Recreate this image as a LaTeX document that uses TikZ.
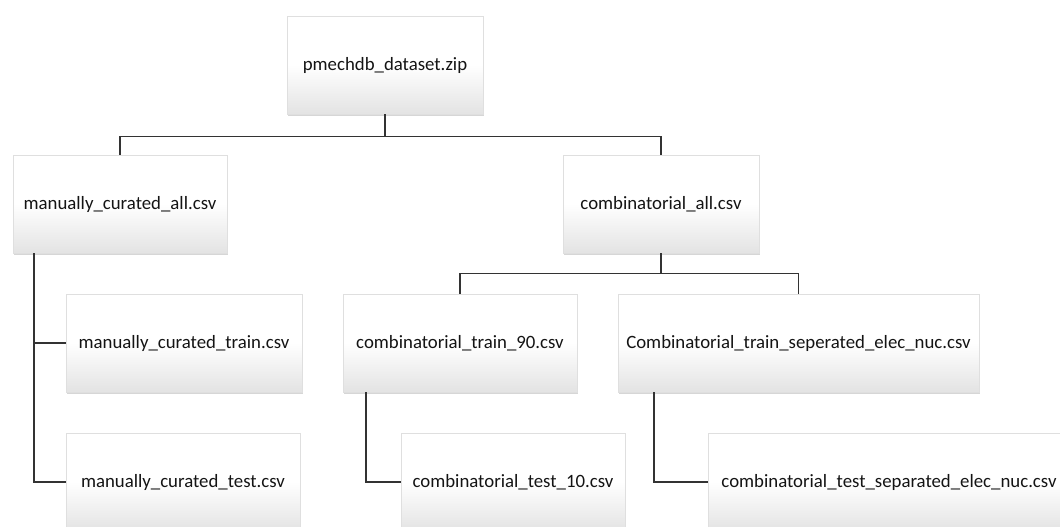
\documentclass[tikz,border=0pt]{standalone}
\usepackage{fontspec}
\setmainfont{Carlito}
\usetikzlibrary{shadows,calc}
\tikzset{
  filebox/.style={rectangle, draw=gray!25, line width=0.4pt,
    top color=white, bottom color=gray!22, middle color=white,
    minimum height=98pt, inner sep=0pt, font=\fontsize{18.8}{22}\selectfont,
    text=black!92,
    drop shadow={shadow xshift=1.2pt, shadow yshift=-1.8pt, opacity=0.45, fill=gray!70}},
  link/.style={draw=black!80, line width=1.4pt}
}
\begin{document}
\begin{tikzpicture}[x=1pt,y=1pt]
\useasboundingbox (0,0) rectangle (1060,-527);
\fill[white] (0,0) rectangle (1060,-527);

\node[filebox, minimum width=196pt] (root) at (385,-65) {pmechdb\_dataset.zip};
\node[filebox, minimum width=214pt] (mca) at (120,-204) {manually\_curated\_all.csv};
\node[filebox, minimum width=196pt] (ca) at (661,-204) {combinatorial\_all.csv};
\node[filebox, minimum width=236pt] (mct) at (184,-343) {manually\_curated\_train.csv};
\node[filebox, minimum width=234pt] (mcte) at (183,-482) {manually\_curated\_test.csv};
\node[filebox, minimum width=234pt] (ct90) at (460,-343) {combinatorial\_train\_90.csv};
\node[filebox, minimum width=361pt] (cts) at (798.5,-343) {Combinatorial\_train\_seperated\_elec\_nuc.csv};
\node[filebox, minimum width=224pt] (ct10) at (513,-482) {combinatorial\_test\_10.csv};
\node[filebox, minimum width=362pt] (ctsep) at (889,-482) {combinatorial\_test\_separated\_elec\_nuc.csv};

% root to first level
\coordinate (j1) at ($(root.south)+(0,-22)$);
\draw[link] (root.south) -- (j1);
\draw[link] (j1) -| (mca.north);
\draw[link] (j1) -| (ca.north);

% manually curated branch
\coordinate (m0) at ($(mca.south west)+(21,0)$);
\draw[link] (m0) |- (mct.west);
\draw[link] (m0) |- (mcte.west);

% combinatorial branch
\coordinate (j2) at ($(ca.south)+(0,-20)$);
\draw[link] (ca.south) -- (j2);
\draw[link] (j2) -| (ct90.north);
\draw[link] (j2) -| (cts.north);

\coordinate (c0) at ($(ct90.south west)+(23,0)$);
\draw[link] (c0) |- (ct10.west);
\coordinate (c1) at ($(cts.south west)+(36,0)$);
\draw[link] (c1) |- (ctsep.west);
\end{tikzpicture}
\end{document}
